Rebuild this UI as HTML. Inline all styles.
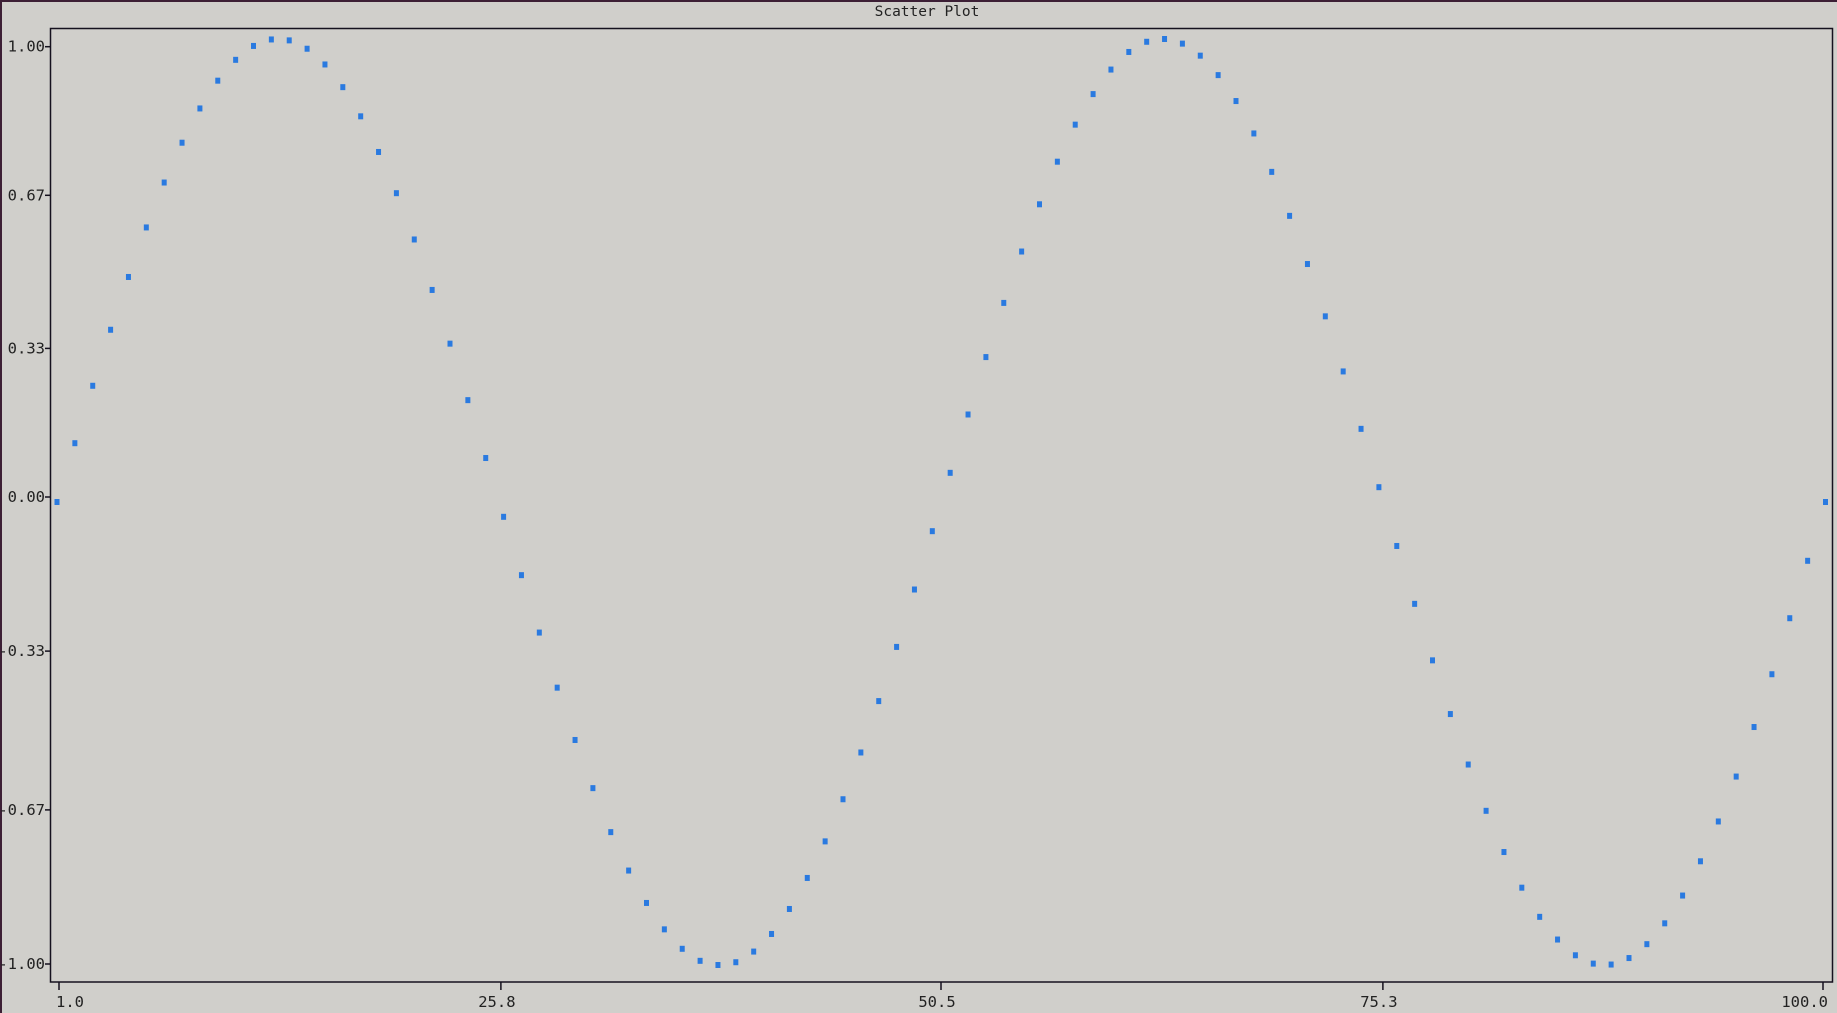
<!DOCTYPE html>
<html><head><meta charset="utf-8"><style>
html,body{margin:0;padding:0;}
body{width:1837px;height:1013px;background:#d0cfcb;overflow:hidden;position:relative;font-family:"DejaVu Sans Mono","Liberation Mono",monospace;}
svg{position:absolute;left:0;top:0;}
text{font-family:"DejaVu Sans Mono","Liberation Mono",monospace;font-size:15.5px;fill:#222;}
</style></head><body>
<svg width="1837" height="1013">
<rect x="0" y="0" width="2" height="1013" fill="#3c1f35"/>
<rect x="0" y="0" width="1837" height="2" fill="#3c1f35"/>
<text x="927" y="16" text-anchor="middle" style="font-size:14.5px">Scatter Plot</text>
<rect x="50.5" y="28.5" width="1782" height="953.5" fill="none" stroke="#15111e" stroke-width="1.5"/>
<g id="yaxis"></g>
<g id="xaxis"></g>
<g id="points"></g>
</svg>
<script>
const xValues = [];
for (let i = 1; i <= 100; i++) xValues.push(i);
const yValues = [0,0.127,0.251,0.372,0.486,0.593,0.690,0.776,0.850,0.910,0.955,0.985,0.999,0.997,0.979,0.945,0.896,0.833,0.756,0.667,0.567,0.458,0.342,0.220,0.095,-0.032,-0.158,-0.282,-0.401,-0.514,-0.618,-0.713,-0.796,-0.866,-0.923,-0.965,-0.991,-1.000,-0.994,-0.971,-0.933,-0.879,-0.812,-0.733,-0.642,-0.541,-0.430,-0.313,-0.189,-0.063,0.063,0.189,0.313,0.430,0.541,0.643,0.735,0.815,0.881,0.934,0.972,0.994,1.000,0.990,0.964,0.922,0.866,0.796,0.713,0.618,0.514,0.401,0.282,0.158,0.032,-0.095,-0.220,-0.342,-0.458,-0.567,-0.667,-0.756,-0.833,-0.896,-0.945,-0.979,-0.997,-0.999,-0.985,-0.955,-0.910,-0.850,-0.776,-0.690,-0.593,-0.486,-0.372,-0.251,-0.127,0];
const xTickValues = [1.0, 25.8, 50.5, 75.3, 100.0];
const xTickLabels = ["1.0", "25.8", "50.5", "75.3", "100.0"];
const yTickValues = [1, 0.67, 0.33, 0, -0.33, -0.67, -1];
const yTickLabels = ["1.00", "0.67", "0.33", "0.00", "-0.33", "-0.67", "-1.00"];

const NS = "http://www.w3.org/2000/svg";
function xTick(v){ return 59 + (v - 1) * (1823 - 59) / 99; }
function yTick(v){ return v >= 0 ? 497 - v * 450.3 : 497 - v * 467; }
function xData(v){ return 57 + (v - 1) * (1825.5 - 57) / 99; }
function yData(v){ return 502 - v * 463; }

const ya = document.getElementById('yaxis');
yTickValues.forEach((v, i) => {
  const y = yTick(v);
  const l = document.createElementNS(NS, 'line');
  l.setAttribute('x1', 45); l.setAttribute('x2', 50); l.setAttribute('y1', y); l.setAttribute('y2', y);
  l.setAttribute('stroke', '#15111e'); l.setAttribute('stroke-width', '1.5');
  
  
  ya.appendChild(l);
  const t = document.createElementNS(NS, 'text');
  t.setAttribute('x', 45); t.setAttribute('y', y + 5); t.setAttribute('text-anchor', 'end');
  t.textContent = yTickLabels[i];
  
  
  ya.appendChild(t);
});
const xa = document.getElementById('xaxis');
xTickValues.forEach((v, i) => {
  const x = xTick(v);
  const l = document.createElementNS(NS, 'line');
  l.setAttribute('x1', x); l.setAttribute('x2', x); l.setAttribute('y1', 982); l.setAttribute('y2', 990);
  l.setAttribute('stroke', '#15111e'); l.setAttribute('stroke-width', '1.5');
  
  
  xa.appendChild(l);
  const t = document.createElementNS(NS, 'text');
  let anchor = 'middle', tx = x - 4;
  if (i === 0) { anchor = 'start'; tx = x - 3; }
  if (i === xTickValues.length - 1) { anchor = 'end'; tx = x + 5; }
  t.setAttribute('x', tx); t.setAttribute('y', 1007); t.setAttribute('text-anchor', anchor);
  t.textContent = xTickLabels[i];
  
  
  xa.appendChild(t);
});
const pts = document.getElementById('points');
xValues.forEach((xv, i) => {
  const r = document.createElementNS(NS, 'rect');
  r.setAttribute('x', xData(xv) - 2.5);
  r.setAttribute('y', yData(yValues[i]) - 3);
  r.setAttribute('width', 5); r.setAttribute('height', 6);
  r.setAttribute('fill', '#2a7ae0');
  
  
  pts.appendChild(r);
});
</script>
</body></html>
